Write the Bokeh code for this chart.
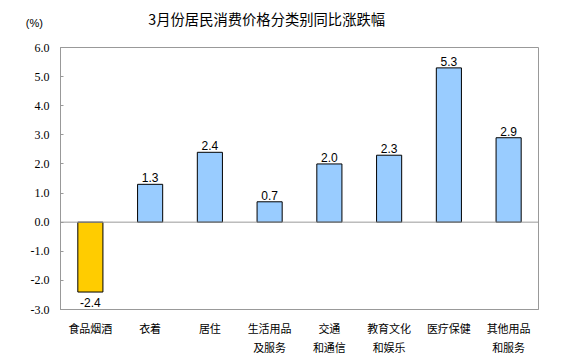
from bokeh.plotting import figure
from bokeh.models import ColumnDataSource, FixedTicker, NumeralTickFormatter, Span, Label, Range1d
from bokeh.core.properties import value
from bokeh.embed import file_html
from bokeh.resources import INLINE

categories = ["食品烟酒", "衣着", "居住", "生活用品\n及服务", "交通\n和通信", "教育文化\n和娱乐", "医疗保健", "其他用品\n和服务"]
values = [-2.4, 1.3, 2.4, 0.7, 2.0, 2.3, 5.3, 2.9]
colors = ["#FFCC00", "#99CCFF", "#99CCFF", "#99CCFF", "#99CCFF", "#99CCFF", "#99CCFF", "#99CCFF"]
y_ticks = [-3, -2, -1, 0, 1, 2, 3, 4, 5, 6]
title_text = "3月份居民消费价格分类别同比涨跌幅"
unit_text = "(%)"

labels = ["%.1f" % v for v in values]
src = ColumnDataSource(dict(cat=categories, val=values, color=colors, label=labels,
                            yoff=[-2 if v >= 0 else 15 for v in values]))

p = figure(width=567, height=357, x_range=categories, y_range=Range1d(-3, 6),
           output_backend="svg", toolbar_location=None,
           min_border_left=60, min_border_right=29, min_border_top=47, min_border_bottom=42)
p.title.visible = False

p.vbar(x="cat", top="val", bottom=0, width=0.42, source=src, fill_color="color",
       line_color="black", line_width=1)
p.text(x="cat", y="val", text="label", source=src, y_offset="yoff", text_align="center",
       text_baseline="bottom", text_font=value("Liberation Sans"), text_font_size="12px",
       text_color="black")

p.add_layout(Span(location=0, dimension="width", line_color="#999999", line_width=1))

p.xgrid.visible = False
p.ygrid.visible = False
p.outline_line_color = "#999999"
p.outline_line_width = 1

p.yaxis.ticker = FixedTicker(ticks=y_ticks)
p.yaxis.formatter = NumeralTickFormatter(format="0.0")
p.yaxis.major_tick_in = 3
p.yaxis.major_tick_out = 0
p.yaxis.minor_tick_line_color = None
p.yaxis.axis_line_color = "#999999"
p.yaxis.major_tick_line_color = "#999999"
p.yaxis.major_label_text_font = "Liberation Serif"
p.yaxis.major_label_text_font_size = "12px"
p.yaxis.major_label_text_color = "black"
p.yaxis.major_label_standoff = 11

p.xaxis.major_tick_line_color = None
p.xaxis.axis_line_color = "#999999"
p.xaxis.major_label_text_font = "Noto Sans CJK SC"
p.xaxis.major_label_text_font_size = "11px"
p.xaxis.major_label_text_color = "black"
p.xaxis.major_label_standoff = 4
p.xaxis.major_label_text_line_height = 1.2

p.add_layout(Label(x=-0.58, y=6.65, x_units="data", y_units="data", text=unit_text,
                   text_font="Liberation Sans", text_font_size="11px", text_color="black",
                   text_baseline="bottom", text_align="left"), "left")

p.add_layout(Label(x=1.47, y=6.99, x_units="data", y_units="data", text=title_text,
                   text_font="Noto Sans CJK SC", text_font_size="14.3px", text_color="black",
                   text_baseline="middle", text_align="left"), "above")

open("out.html", "w").write(file_html(p, INLINE))
